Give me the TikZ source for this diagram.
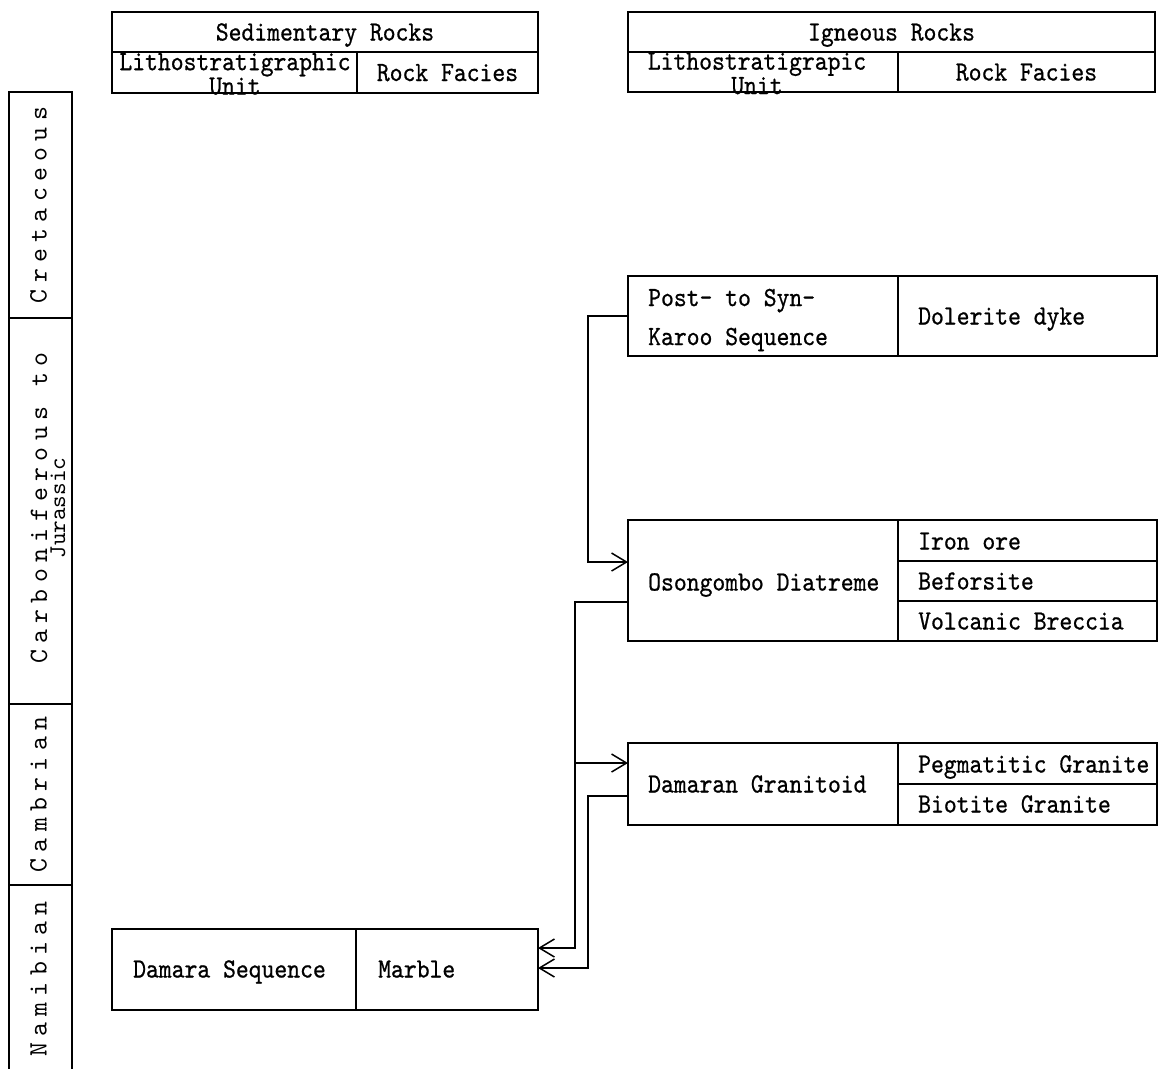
\documentclass[tikz,border=0pt]{standalone}
\usepackage{fontspec}
\usetikzlibrary{arrows.meta}
\newfontfamily\mainfnt[FakeStretch=0.88,FakeBold=0.7]{lmmono10-regular.otf}
\newfontfamily\colfnt[LetterSpace=24]{lmmono10-regular.otf}
\newfontfamily\colfntn{lmmono10-regular.otf}
\begin{document}
\begin{tikzpicture}[x=1pt,y=-1pt,
  cell/.style={draw, line width=1.5pt, inner sep=0pt, outer sep=0pt},
  lbl/.style={font={\mainfnt\fontsize{27.8pt}{30pt}\selectfont}, inner sep=0pt, text height=17pt, text depth=0pt},
  mlbl/.style={font={\mainfnt\fontsize{27.8pt}{#1}\selectfont}, inner sep=0pt, align=left},
  coltxt/.style={font={\colfnt\fontsize{26.5pt}{18pt}\selectfont}, rotate=90, inner sep=0pt, text height=16pt, text depth=0pt},
  arr/.style={line width=1.5pt, -{Straight Barb[length=15pt,width=18pt]}},
  conn/.style={line width=1.5pt}
]
\useasboundingbox (0,0) rectangle (1163,1069);

% time column
\node[cell, minimum width=63pt, minimum height=226pt] (cret) at (40.5,205) {};
\node[cell, minimum width=63pt, minimum height=386pt] (carb) at (40.5,511) {};
\node[cell, minimum width=63pt, minimum height=181pt] (camb) at (40.5,794.5) {};
\node[inner sep=0pt, outer sep=0pt, minimum width=63pt, minimum height=184pt] (nami) at (40.5,977) {};
\draw[conn] (nami.south west) -- (nami.north west) -- (nami.north east) -- (nami.south east);
\node[coltxt] (cretT) at (38.5,205) {Cretaceous};
\node[coltxt, align=center, text height=, text depth=, font={\colfnt\fontsize{26.5pt}{18pt}\selectfont}] (carbT) at (48,508) {Carboniferous to\\{\colfntn\fontsize{24pt}{18pt}\selectfont Jurassic}};
\node[coltxt] (cambT) at (38.5,794.5) {Cambrian};
\node[coltxt] (namiT) at (38.5,979) {Namibian};

% sedimentary header
\node[cell, minimum width=426pt, minimum height=40pt] (sedH) at (325,32) {};
\node[cell, minimum width=245pt, minimum height=41pt] (sedU) at (234.5,72.5) {};
\node[cell, minimum width=181pt, minimum height=41pt] (sedF) at (447.5,72.5) {};
\node[lbl] (sedHT) at (sedH) {Sedimentary Rocks};
\node[mlbl=19pt, align=center] (sedUT) at (235,74) {Lithostratigraphic\\Unit};
\node[lbl] (sedFT) at (sedF) {Rock Facies};

% igneous header
\node[cell, minimum width=527pt, minimum height=40pt] (ignH) at (891.5,32) {};
\node[cell, minimum width=270pt, minimum height=40pt] (ignU) at (763,72) {};
\node[cell, minimum width=257pt, minimum height=40pt] (ignF) at (1026.5,72) {};
\node[lbl] (ignHT) at (ignH) {Igneous Rocks};
\node[mlbl=19pt, align=center] (ignUT) at (757,73.5) {Lithostratigrapic\\Unit};
\node[lbl] (ignFT) at (ignF) {Rock Facies};

% Post- to Syn-Karoo
\node[cell, minimum width=270pt, minimum height=80pt] (post) at (763,316) {};
\node[cell, minimum width=259pt, minimum height=80pt] (dol) at (1027.5,316) {};
\node[mlbl=39pt, anchor=west] (postT) at (648,320) {Post- to Syn-\\Karoo Sequence};
\node[lbl, anchor=west] (dolT) at (918,316) {Dolerite dyke};

% Osongombo
\node[cell, minimum width=270pt, minimum height=121pt] (oso) at (763,580.5) {};
\node[cell, minimum width=259pt, minimum height=41pt] (iron) at (1027.5,540.5) {};
\node[cell, minimum width=259pt, minimum height=40pt] (befo) at (1027.5,581) {};
\node[cell, minimum width=259pt, minimum height=40pt] (volc) at (1027.5,621) {};
\node[lbl, anchor=west] (osoT) at (648,582) {Osongombo Diatreme};
\node[lbl, anchor=west] (ironT) at (918,541) {Iron ore};
\node[lbl, anchor=west] (befoT) at (918,581) {Beforsite};
\node[lbl, anchor=west] (volcT) at (918,621) {Volcanic Breccia};

% Damaran Granitoid
\node[cell, minimum width=270pt, minimum height=82pt] (gran) at (763,784) {};
\node[cell, minimum width=259pt, minimum height=41pt] (peg) at (1027.5,763.5) {};
\node[cell, minimum width=259pt, minimum height=41pt] (bio) at (1027.5,804.5) {};
\node[lbl, anchor=west] (granT) at (648,784) {Damaran Granitoid};
\node[lbl, anchor=west] (pegT) at (918,764) {Pegmatitic Granite};
\node[lbl, anchor=west] (bioT) at (918,804) {Biotite Granite};

% Damara Sequence
\node[cell, minimum width=244pt, minimum height=81pt] (damS) at (234,969.5) {};
\node[cell, minimum width=182pt, minimum height=81pt] (marb) at (447,969.5) {};
\node[lbl, anchor=west] (damST) at (133,969) {Damara Sequence};
\node[lbl, anchor=west] (marbT) at (378,969) {Marble};

% connectors
\draw[arr] (post.west) -- ++(-40,0) |- ([yshift=18.5pt]oso.west);
\draw[arr] ([yshift=-21.5pt]oso.west) -- ++(-53,0) coordinate (j2) |- ([yshift=21.5pt]marb.east);
\draw[arr] (j2) |- ([yshift=21pt]gran.west);
\draw[arr] ([yshift=-12pt]gran.west) -- ++(-40,0) |- ([yshift=1.5pt]marb.east);
\end{tikzpicture}
\end{document}
